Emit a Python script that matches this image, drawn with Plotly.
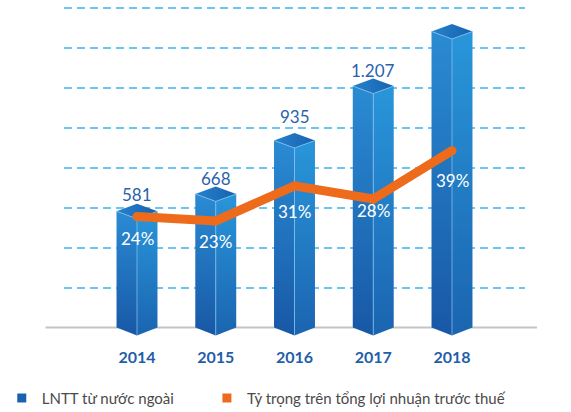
import plotly.graph_objects as go

years = ["2014", "2015", "2016", "2017", "2018"]
profit = [581, 668, 935, 1207, 1480]          # LNTT từ nước ngoài
share = [24, 23, 31, 28, 39]                  # Tỷ trọng (%)
grid_vals = [200, 400, 600, 800, 1000, 1200, 1400, 1600]

BLUE_TXT = "#2a62ab"
ORANGE = "#ee6b1b"
FONT = "Lato, Noto Sans, sans-serif"

hw = 0.26      # half bar width (x units)
d = 37.5       # depth of top diamond (y units)
d_bot = 40     # depth of pointed bottom

fig = go.Figure()

for i, v in enumerate(profit):
    c = i
    # left face
    fig.add_trace(go.Scatter(
        x=[c - hw, c - hw, c, c, c - hw], y=[0, v, v - d, -d_bot, 0],
        fill="toself", mode="lines", line=dict(width=0),
        fillgradient=dict(type="vertical",
                          colorscale=[[0, "#1858a6"], [1, "#2a8bd3"]]),
        hoverinfo="skip", showlegend=False))
    # right face
    fig.add_trace(go.Scatter(
        x=[c, c, c + hw, c + hw, c], y=[-d_bot, v - d, v, 0, -d_bot],
        fill="toself", mode="lines", line=dict(width=0),
        fillgradient=dict(type="vertical",
                          colorscale=[[0, "#1b64b0"], [1, "#2996da"]]),
        hoverinfo="skip", showlegend=False))
    # top
    fig.add_trace(go.Scatter(
        x=[c - hw, c, c + hw, c, c - hw], y=[v, v + d, v, v - d, v],
        fill="toself", mode="lines", line=dict(width=0),
        fillgradient=dict(type="horizontal",
                          colorscale=[[0, "#2781cb"], [1, "#1762b0"]]),
        hoverinfo="skip", showlegend=False))
    # light edges
    fig.add_trace(go.Scatter(
        x=[c - hw, c, c + hw, None, c, c], y=[v, v - d, v, None, v - d, -d_bot],
        mode="lines", line=dict(width=1, color="rgba(130,195,240,0.75)"),
        hoverinfo="skip", showlegend=False))

# value labels above bars (the last one sits partly above the page edge)
label_shift = [-3, -5, 4, -4, 18]
for i, v in enumerate(profit):
    fig.add_annotation(x=i, y=v + d, xref="x", yref="y",
                       text=f"{v:,}".replace(",", "."), showarrow=False,
                       yanchor="bottom", yshift=label_shift[i],
                       font=dict(family=FONT, size=17, color=BLUE_TXT))

# share line
fig.add_trace(go.Scatter(
    x=list(range(len(years))), y=share, yaxis="y2", mode="lines+markers",
    line=dict(color=ORANGE, width=9), marker=dict(color=ORANGE, size=9),
    hoverinfo="skip", showlegend=False))

pct_shift = [-22, -21, -26, -11, -30]
for i, p in enumerate(share):
    fig.add_annotation(x=i, y=p, xref="x", yref="y2", text=f"{p}%",
                       showarrow=False, yshift=pct_shift[i],
                       font=dict(family=FONT, size=17, color="white"))

# legend entries
fig.add_trace(go.Scatter(x=[None], y=[None], mode="markers",
                         marker=dict(symbol="square", size=9, color="#1a62ad"),
                         name="LNTT từ nước ngoài", legend="legend"))
fig.add_trace(go.Scatter(x=[None], y=[None], mode="markers",
                         marker=dict(symbol="square", size=9, color=ORANGE),
                         name="Tỷ trọng trên tổng lợi nhuận trước thuế",
                         legend="legend2"))

fig.add_shape(type="line", xref="paper", yref="y", x0=-0.04, x1=1.026,
              y0=0, y1=0, line=dict(color="#c4c4c4", width=2), layer="below")

legend_style = dict(orientation="h", xanchor="left", y=-0.123, yanchor="top",
                    bgcolor="rgba(0,0,0,0)",
                    font=dict(family=FONT, size=15, color="#4a4a4a"))

fig.update_layout(
    width=571, height=412,
    margin=dict(l=64, r=46, t=0, b=72, autoexpand=False),
    paper_bgcolor="white", plot_bgcolor="white",
    font=dict(family=FONT),
    xaxis=dict(range=[-0.927, 4.927], tickvals=list(range(len(years))),
               ticktext=years, showgrid=False, zeroline=False,
               ticks="outside", ticklen=3, tickcolor="rgba(0,0,0,0)",
               tickfont=dict(family=FONT, size=16, color="#1f5ea8", weight="bold")),
    yaxis=dict(range=[-62.5, 1637.5], tickmode="array", tickvals=grid_vals,
               showticklabels=False, showgrid=True, gridcolor="#6cc6ef",
               griddash="8px,5px", gridwidth=1.5, zeroline=False),
    yaxis2=dict(range=[-4.12, 73.33], overlaying="y", side="right",
                visible=False),
    showlegend=True,
    legend=dict(x=-0.135, **legend_style),
    legend2=dict(x=0.31, **legend_style),
)

fig.write_html("out.html", config={"displayModeBar": False},
               post_script="document.body.style.margin='0px';")
